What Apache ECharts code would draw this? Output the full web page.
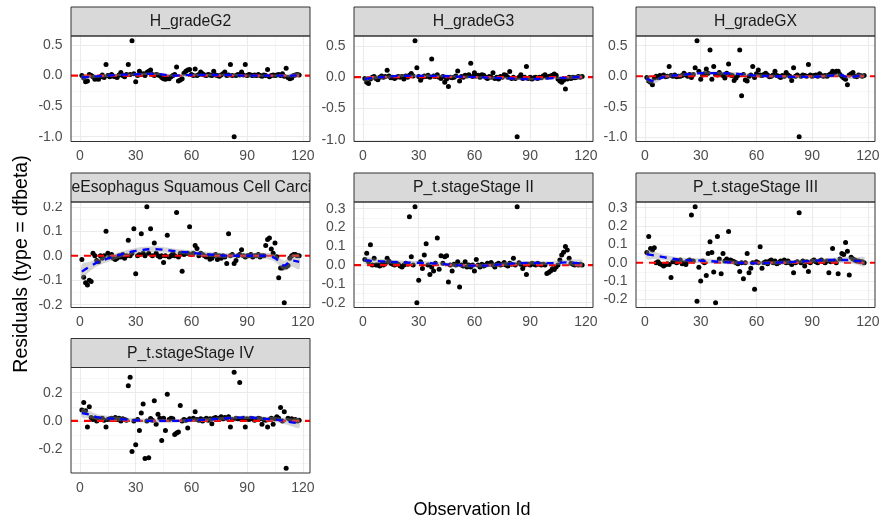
<!DOCTYPE html>
<html><head><meta charset="utf-8">
<script src="https://cdn.jsdelivr.net/npm/echarts@6/dist/echarts.min.js"></script>
<style>html,body{margin:0;padding:0;background:#fff}#c{width:880px;height:522px}</style>
</head><body><div id="c"></div>
<script>
// ---------------- DATA ----------------
const PANEL_TITLES = ["H_gradeG2","H_gradeG3","H_gradeGX","H_typeEsophagus Squamous Cell Carcinoma","P_t.stageStage II","P_t.stageStage III","P_t.stageStage IV"];
const X_TICKS = [0,30,60,90,120];
const X_MINOR = [15,45,75,105];
const Y_MAJOR_GRADE = [-1.0,-0.5,0.0,0.5];
const Y_MINOR_GRADE = [-0.75,-0.25,0.25];
const Y_MAJOR_ESCC = [-0.2,-0.1,0.0,0.1,0.2];
const Y_MINOR_ESCC = [-0.15,-0.05,0.05,0.15];
const Y_MAJOR_ST23 = [-0.2,-0.1,0.0,0.1,0.2,0.3];
const Y_MINOR_ST23 = [-0.15,-0.05,0.05,0.15,0.25];
const Y_MAJOR_ST4 = [-0.2,0.0,0.2];
const Y_MINOR_ST4 = [-0.3,-0.1,0.1,0.3];
const HLINE_Y = 0;

const RES_G2 = [
0.0,-0.04,-0.1,-0.09,0.02,0.0,-0.02,-0.06,-0.05,-0.06,
-0.02,0.01,-0.03,0.18,0.0,-0.02,0.02,-0.01,-0.02,-0.03,
0.01,0.05,0.0,-0.02,0.02,0.18,0.02,0.57,0.03,-0.1,
0.0,0.07,0.02,0.03,0.0,0.05,0.07,0.09,0.02,0.0,
0.02,0.01,0.0,-0.03,-0.05,-0.06,-0.04,-0.05,-0.02,0.0,
0.02,0.14,-0.09,-0.07,-0.05,0.04,0.07,0.09,0.1,0.02,
0.0,0.11,0.0,0.02,0.06,0.03,0.01,0.0,0.02,0.01,
0.0,0.07,0.01,0.0,-0.01,0.01,0.03,0.06,0.0,0.01,
0.18,0.0,-1.0,0.0,0.02,0.01,0.06,0.01,0.18,0.0,
0.02,0.01,0.0,0.01,0.0,0.02,0.0,-0.01,0.01,0.0,
0.1,-0.02,0.0,0.01,0.0,0.01,0.02,0.0,0.03,-0.01,
0.12,-0.03,-0.05,-0.04,0.0,0.01,0.02,0.01];
const RES_G3 = [
-0.02,-0.08,-0.1,-0.03,0.0,0.01,-0.02,-0.04,0.0,0.02,
0.0,0.01,0.11,0.02,-0.01,0.0,-0.02,0.0,0.01,0.0,
0.01,-0.03,0.02,0.0,0.03,0.06,0.02,0.58,0.15,0.01,
-0.05,0.0,0.02,0.01,0.03,0.0,0.29,0.02,0.01,0.04,
0.0,-0.02,0.01,-0.08,-0.03,-0.15,0.0,-0.01,0.0,0.02,
0.1,-0.06,0.01,0.0,0.03,0.02,0.04,0.22,0.01,0.07,
0.02,0.03,0.0,0.04,0.03,0.0,-0.02,0.01,0.0,0.07,
-0.02,0.0,-0.03,0.01,0.0,0.04,0.03,0.0,0.09,-0.02,
0.0,-0.02,-0.95,0.0,0.04,-0.02,0.0,0.17,-0.02,0.0,
-0.03,-0.01,0.0,-0.02,0.0,-0.01,0.02,0.04,0.0,0.01,
0.02,0.03,0.05,0.03,-0.03,-0.06,-0.08,-0.05,-0.19,-0.03,
0.0,-0.02,0.0,-0.01,0.0,0.01,0.0,0.01];
const RES_GX = [
-0.02,-0.08,-0.1,-0.14,-0.03,0.0,-0.02,0.01,0.0,0.02,
-0.01,0.0,0.16,0.01,0.0,0.02,-0.01,0.0,0.0,0.01,
0.05,0.02,0.0,0.03,-0.02,0.03,0.14,0.58,0.08,-0.05,
0.02,0.04,0.12,0.05,0.43,-0.05,0.16,0.03,0.02,0.06,
0.03,0.01,-0.03,0.05,0.2,0.02,0.01,-0.07,-0.03,0.01,
0.43,-0.32,0.03,-0.06,-0.08,0.0,0.02,0.16,-0.02,0.04,
0.1,0.02,0.01,0.03,0.05,0.02,-0.01,0.0,0.02,0.08,
0.01,0.0,-0.02,0.01,0.0,0.06,0.02,0.0,-0.07,0.14,
0.0,0.02,-0.99,0.0,0.02,0.01,0.0,0.19,0.02,0.0,
0.01,0.02,0.0,0.04,0.01,0.0,0.01,0.0,0.02,0.04,
0.08,0.05,0.08,0.08,0.03,0.0,-0.03,-0.05,-0.14,0.02,
0.04,0.06,0.0,-0.01,0.02,0.01,0.0,0.01];
const RES_ESCC = [
-0.015,-0.088,-0.11,-0.12,-0.1,-0.105,0.01,0.0,-0.02,-0.025,
0.0,-0.01,0.0,0.1,0.01,-0.005,0.005,-0.01,-0.015,-0.01,
0.0,-0.005,0.005,-0.01,0.0,0.063,0.0,0.01,0.11,-0.074,
0.0,0.005,0.09,0.01,0.0,0.2,0.01,0.11,0.0,0.052,
0.01,0.0,-0.005,0.0,-0.028,0.0,0.084,-0.005,0.0,0.01,
0.0,0.177,-0.005,0.01,-0.063,0.005,0.01,0.01,0.118,0.005,
0.01,0.042,0.03,0.0,0.01,0.005,0.0,-0.005,0.0,-0.014,
-0.01,0.0,0.005,-0.015,0.0,-0.01,0.0,-0.005,-0.032,0.09,
0.0,0.005,-0.032,-0.02,0.0,0.005,0.024,0.0,-0.005,0.0,
0.0,0.005,-0.005,0.0,0.0,0.005,-0.005,0.0,0.0,0.042,
0.066,0.072,0.028,0.01,0.052,-0.004,-0.09,-0.05,-0.05,-0.192,
-0.046,-0.04,-0.01,0.0,0.005,0.005,0.0,0.0];
const RES_ST2 = [
0.03,0.063,0.018,0.108,0.0,0.036,0.0,0.0,-0.005,0.005,
0.0,0.01,0.036,0.02,0.01,0.005,0.0,0.01,0.005,-0.005,
-0.01,0.0,0.01,0.005,0.257,0.045,0.0,0.31,-0.2,-0.08,
0.018,-0.018,0.054,0.113,0.0,-0.05,-0.01,-0.032,0.01,0.144,
-0.022,0.05,0.01,0.045,0.05,-0.09,0.0,-0.032,0.005,0.0,
0.018,-0.117,0.0,-0.005,0.018,-0.01,0.0,-0.01,0.0,-0.032,
0.03,0.0,-0.01,0.005,-0.005,0.0,0.01,0.005,0.014,0.0,
-0.01,0.005,0.01,0.0,0.005,0.014,0.0,-0.005,0.01,0.005,
0.036,0.0,0.31,0.012,0.005,-0.018,0.0,-0.05,0.005,0.0,
0.01,0.005,0.0,0.01,0.005,0.0,0.005,0.0,-0.045,-0.04,
-0.032,-0.02,-0.023,-0.01,0.0,0.027,0.054,0.068,0.099,0.08,
0.036,0.01,0.005,0.0,0.005,0.0,0.005,0.0];
const RES_ST3 = [
0.056,0.143,0.078,0.07,0.081,0.0,0.005,-0.005,-0.01,-0.018,
-0.011,-0.005,-0.01,-0.08,0.005,0.01,0.0,0.005,0.015,-0.005,
0.0,-0.01,0.01,0.015,0.26,0.01,0.305,-0.21,-0.024,-0.1,
0.01,0.0,-0.07,0.05,0.115,0.056,-0.05,-0.218,0.143,0.02,
-0.06,0.05,0.01,0.02,0.17,0.015,0.01,0.005,0.0,-0.005,
-0.048,0.0,-0.088,0.0,0.05,-0.055,-0.03,0.0,-0.144,0.005,
0.0,0.087,-0.03,0.0,0.005,-0.005,0.01,0.015,0.0,0.01,
-0.005,0.0,0.01,0.005,0.015,0.0,0.01,0.0,-0.01,-0.055,
0.0,0.005,0.272,0.0,0.01,-0.018,0.005,-0.048,0.0,0.01,
0.015,0.005,0.0,0.01,0.015,0.005,0.0,0.01,-0.055,0.005,
0.078,0.01,0.0,-0.06,0.02,0.05,0.045,0.11,0.063,-0.067,
0.03,0.02,0.015,0.01,0.01,0.005,0.005,0.0];
const RES_ST4 = [
0.077,0.13,0.072,-0.043,0.1,0.024,0.01,0.02,0.0,0.015,
0.01,0.02,0.005,-0.043,0.01,0.015,0.02,0.01,0.025,0.01,
0.02,0.0,0.015,0.01,0.005,0.25,0.31,-0.216,0.0,-0.168,
0.01,-0.067,0.057,0.12,-0.266,0.0,-0.26,0.017,0.005,0.144,
-0.024,0.048,0.02,-0.139,0.02,-0.067,0.19,0.01,0.02,0.015,
-0.096,-0.085,-0.079,0.11,0.0,0.01,0.005,-0.05,0.015,0.01,
0.02,0.065,0.01,0.005,0.015,0.0,0.01,0.02,0.005,0.015,
-0.019,0.02,0.025,0.01,0.02,0.03,0.015,0.025,0.02,0.03,
-0.043,0.01,0.345,0.02,0.015,0.273,0.01,0.02,-0.043,0.015,
0.01,0.02,0.015,0.005,0.01,0.02,0.015,-0.024,0.01,0.005,
-0.043,0.01,0.02,-0.024,0.015,0.03,0.02,0.096,0.0,0.065,
-0.335,0.02,0.01,0.015,0.005,0.01,0.0,0.005];

// smoother (blue dashed) read at these observation ids, with half-width of the grey band
const SMOOTH_X = [1,5,10,20,30,40,50,60,70,80,90,100,105,110,114,118];
const SM_G2  = [-0.03,-0.02,-0.01,0.01,0.02,0.03,0.0,0.01,0.01,0.01,0.0,0.0,0.0,0.0,0.0,0.01];
const BD_G2  = [0.04,0.03,0.025,0.02,0.02,0.02,0.02,0.02,0.02,0.02,0.02,0.02,0.02,0.025,0.03,0.035];
const SM_G3  = [-0.03,-0.01,0.0,0.02,0.02,0.02,0.01,0.0,-0.01,-0.02,-0.03,-0.02,-0.01,-0.01,0.0,0.0];
const BD_G3  = [0.04,0.03,0.025,0.02,0.02,0.02,0.02,0.02,0.02,0.02,0.02,0.02,0.02,0.025,0.03,0.035];
const SM_GX  = [-0.04,-0.08,-0.01,0.02,0.05,0.05,0.04,0.01,0.0,-0.01,-0.01,0.01,0.02,-0.02,0.0,0.01];
const BD_GX  = [0.05,0.04,0.03,0.025,0.025,0.025,0.025,0.025,0.025,0.025,0.025,0.025,0.025,0.03,0.035,0.04];
const SM_ESCC= [-0.065,-0.045,-0.025,0.0,0.02,0.027,0.02,0.012,0.005,0.0,0.0,0.0,-0.01,-0.04,-0.02,-0.025];
const BD_ESCC= [0.03,0.02,0.015,0.012,0.012,0.012,0.01,0.01,0.01,0.01,0.01,0.012,0.015,0.02,0.025,0.03];
const SM_ST2 = [0.025,0.022,0.02,0.015,0.012,0.008,0.0,-0.003,0.0,0.008,0.012,0.01,0.012,0.015,0.012,0.008];
const BD_ST2 = [0.02,0.015,0.012,0.01,0.01,0.01,0.01,0.01,0.01,0.01,0.01,0.01,0.012,0.015,0.018,0.02];
const SM_ST3 = [0.045,0.04,0.03,0.015,0.012,0.005,0.0,-0.003,0.0,0.005,0.01,0.015,0.015,0.015,0.01,0.005];
const BD_ST3 = [0.025,0.02,0.015,0.012,0.012,0.012,0.01,0.01,0.01,0.01,0.01,0.012,0.015,0.018,0.02,0.025];
const SM_ST4 = [0.055,0.045,0.025,0.015,0.005,0.0,0.0,0.005,0.01,0.02,0.025,0.015,0.01,0.0,-0.01,-0.015];
const BD_ST4 = [0.03,0.025,0.02,0.015,0.015,0.015,0.012,0.012,0.012,0.012,0.012,0.015,0.018,0.022,0.028,0.035];

// ---------------- LAYOUT / STYLE ----------------
const FONT = '"Liberation Sans", Arial, sans-serif';
const COL_LEFT = [71, 354, 636];
const ROW_TOP = [36, 202, 367.5];
const PW = 239, PH = 105.5, STRIP_H = 29;

const PANELS = [
  {title:PANEL_TITLES[0], res:RES_G2,   sm:SM_G2,   bd:BD_G2,   yMajor:Y_MAJOR_GRADE, yMinor:Y_MINOR_GRADE},
  {title:PANEL_TITLES[1], res:RES_G3,   sm:SM_G3,   bd:BD_G3,   yMajor:Y_MAJOR_GRADE, yMinor:Y_MINOR_GRADE},
  {title:PANEL_TITLES[2], res:RES_GX,   sm:SM_GX,   bd:BD_GX,   yMajor:Y_MAJOR_GRADE, yMinor:Y_MINOR_GRADE},
  {title:PANEL_TITLES[3], res:RES_ESCC, sm:SM_ESCC, bd:BD_ESCC, yMajor:Y_MAJOR_ESCC,  yMinor:Y_MINOR_ESCC},
  {title:PANEL_TITLES[4], res:RES_ST2,  sm:SM_ST2,  bd:BD_ST2,  yMajor:Y_MAJOR_ST23,  yMinor:Y_MINOR_ST23},
  {title:PANEL_TITLES[5], res:RES_ST3,  sm:SM_ST3,  bd:BD_ST3,  yMajor:Y_MAJOR_ST23,  yMinor:Y_MINOR_ST23},
  {title:PANEL_TITLES[6], res:RES_ST4,  sm:SM_ST4,  bd:BD_ST4,  yMajor:Y_MAJOR_ST4,   yMinor:Y_MINOR_ST4}
];

const N = RES_G2.length;
const X_MIN = 1 - 0.05 * (N - 1), X_MAX = N + 0.05 * (N - 1);

const grids = [], xAxes = [], yAxes = [], series = [], graphics = [];
PANELS.forEach((p, k) => {
  const col = k % 3, row = Math.floor(k / 3);
  const left = COL_LEFT[col], top = ROW_TOP[row];
  const lo = Math.min(...p.res), hi = Math.max(...p.res), pad = (hi - lo) * 0.05;
  grids.push({left, top, width: PW, height: PH, show: true, z: 10, borderColor: '#333333', borderWidth: 1,
    backgroundColor: 'rgba(0,0,0,0)', containLabel: false, outerBoundsMode: 'none'});
  xAxes.push({type: 'value', gridIndex: k, min: X_MIN, max: X_MAX,
    splitLine: {show: false}, axisLine: {show: false},
    axisTick: {show: true, customValues: X_TICKS, length: 4, lineStyle: {color: '#333333', width: 1}},
    axisLabel: {customValues: X_TICKS, color: '#4D4D4D', fontSize: 14, margin: 8, fontFamily: FONT}});
  yAxes.push({type: 'value', gridIndex: k, min: lo - pad, max: hi + pad,
    splitLine: {show: false}, axisLine: {show: false},
    axisTick: {show: true, customValues: p.yMajor, length: 4, lineStyle: {color: '#333333', width: 1}},
    axisLabel: {customValues: p.yMajor, color: '#4D4D4D', fontSize: 14, margin: 8.5, fontFamily: FONT,
      formatter: v => Number(v).toFixed(1)}});

  const gridLines = [];
  p.yMinor.forEach(v => gridLines.push({yAxis: v, lineStyle: {color: '#F0F0F0', width: 0.6, type: 'solid'}}));
  X_MINOR.forEach(v => gridLines.push({xAxis: v, lineStyle: {color: '#F0F0F0', width: 0.6, type: 'solid'}}));
  p.yMajor.forEach(v => gridLines.push({yAxis: v, lineStyle: {color: '#EBEBEB', width: 1.1, type: 'solid'}}));
  X_TICKS.forEach(v => gridLines.push({xAxis: v, lineStyle: {color: '#EBEBEB', width: 1.1, type: 'solid'}}));

  // points (+ grid lines underneath)
  series.push({type: 'scatter', xAxisIndex: k, yAxisIndex: k, z: 2, silent: true,
    data: p.res.map((v, i) => [i + 1, v]), symbolSize: 5, itemStyle: {color: '#000000', opacity: 1, borderWidth: 0},
    markLine: {silent: true, z: 1, symbol: ['none', 'none'], label: {show: false}, animation: false, data: gridLines}});
  // red dashed reference line at y = 0, across the whole panel
  series.push({type: 'line', xAxisIndex: k, yAxisIndex: k, z: 3, silent: true, symbol: 'none',
    lineStyle: {color: '#FF0000', width: 2.2, type: [7, 6], opacity: 1},
    data: [[X_MIN, HLINE_Y], [X_MAX, HLINE_Y]]});
  // grey confidence band of the smoother
  series.push({type: 'custom', xAxisIndex: k, yAxisIndex: k, z: 4, silent: true, data: [[SMOOTH_X[0], p.sm[0]]],
    renderItem: (params, api) => {
      const up = SMOOTH_X.map((x, i) => api.coord([x, p.sm[i] + p.bd[i]]));
      const dn = SMOOTH_X.map((x, i) => api.coord([x, p.sm[i] - p.bd[i]])).reverse();
      return {type: 'polygon', shape: {points: up.concat(dn), smooth: 0.3},
        style: {fill: 'rgba(153,153,153,0.4)', stroke: null}};
    }});
  // smoother
  series.push({type: 'line', xAxisIndex: k, yAxisIndex: k, z: 5, silent: true, smooth: 0.35, symbol: 'none',
    lineStyle: {color: '#0000FF', width: 2.3, type: [7, 6], opacity: 1},
    data: SMOOTH_X.map((x, i) => [x, p.sm[i]])});

  // strip
  graphics.push({type: 'rect', z: 1, shape: {x: left, y: top - STRIP_H, width: PW, height: STRIP_H},
    style: {fill: '#D9D9D9', stroke: null}});
  graphics.push({type: 'text', z: 2, x: left + PW / 2, y: top - STRIP_H / 2 + 0.5,
    style: {text: p.title, fill: '#1A1A1A', font: '15.75px ' + FONT, align: 'center', verticalAlign: 'middle'}});
  graphics.push({type: 'rect', z: 4, shape: {x: left, y: top - STRIP_H, width: PW, height: STRIP_H},
    style: {fill: 'none', stroke: '#333333', lineWidth: 1}});
});
// white covers so the long strip label is clipped to its strip
ROW_TOP.forEach(top => {
  const gaps = [[0, COL_LEFT[0]], [COL_LEFT[0] + PW, COL_LEFT[1]], [COL_LEFT[1] + PW, COL_LEFT[2]], [COL_LEFT[2] + PW, 880]];
  gaps.forEach(g => graphics.push({type: 'rect', z: 3, shape: {x: g[0], y: top - STRIP_H - 1, width: g[1] - g[0], height: STRIP_H + 1},
    style: {fill: '#FFFFFF', stroke: null}}));
});
graphics.push({type: 'text', z: 10, x: 22, y: 264, rotation: Math.PI / 2,
  style: {text: 'Residuals (type = dfbeta)', fill: '#000000', font: '19.5px ' + FONT, align: 'center', verticalAlign: 'middle'}});
graphics.push({type: 'text', z: 10, x: 472, y: 510,
  style: {text: 'Observation Id', fill: '#000000', font: '18px ' + FONT, align: 'center', verticalAlign: 'middle'}});

const chart = echarts.init(document.getElementById('c'), null, {renderer: 'canvas'});
chart.setOption({
  animation: false,
  backgroundColor: '#FFFFFF',
  grid: grids, xAxis: xAxes, yAxis: yAxes, series: series,
  graphic: {elements: graphics}
});
</script></body></html>
